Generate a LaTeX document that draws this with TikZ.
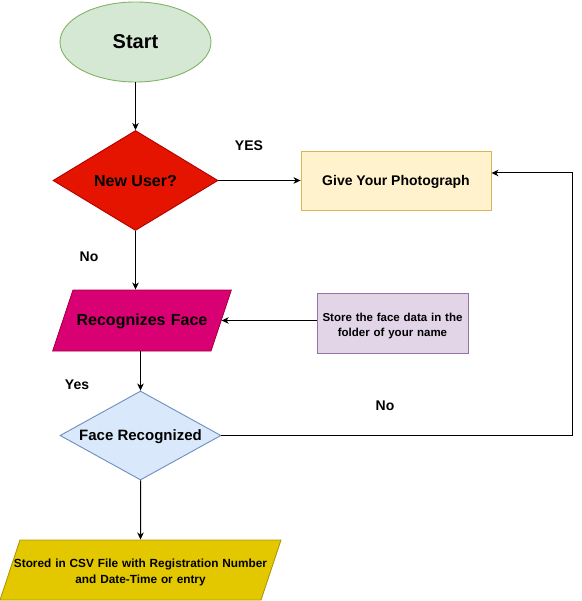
\documentclass[tikz,border=0pt]{standalone}
\usepackage{fontspec}
\setmainfont{Liberation Sans}
\usepackage{xcolor}
\usetikzlibrary{arrows.meta,shapes.geometric}

\definecolor{startfill}{HTML}{D5E8D4}
\definecolor{startline}{HTML}{82B366}
\definecolor{userfill}{HTML}{E51400}
\definecolor{userline}{HTML}{B20000}
\definecolor{photofill}{HTML}{FFF2CC}
\definecolor{photoline}{HTML}{D6B656}
\definecolor{facefill}{HTML}{D80073}
\definecolor{faceline}{HTML}{A50040}
\definecolor{storefill}{HTML}{E1D5E7}
\definecolor{storeline}{HTML}{9673A6}
\definecolor{checkfill}{HTML}{DAE8FC}
\definecolor{checkline}{HTML}{6C8EBF}
\definecolor{csvfill}{HTML}{E3C800}
\definecolor{csvline}{HTML}{B09500}

\begin{document}
\begin{tikzpicture}[
	x=1pt, y=-1pt,
	every node/.style={
		inner sep=0pt,
		align=center,
		font=\bfseries
	},
	shape line/.style={draw, line width=0.9pt},
	one line/.style={text depth=0pt},
	terminal/.style={ellipse, shape line, one line, minimum width=151pt, minimum height=80pt},
	process/.style={rectangle, shape line},
	decision/.style={diamond, shape line, one line, aspect=1.6},
	inout/.style={
		trapezium, shape line,
		trapezium left angle=71.57,
		trapezium right angle=108.43
	},
	arrow/.style={-{Stealth[length=7pt,width=6.5pt,inset=2pt]}, line width=1pt},
	answer/.style={one line, font=\bfseries\fontsize{14}{16}\selectfont}
]
\useasboundingbox (0,0) rectangle (581,601);

\node[terminal, fill=startfill, draw=startline,
	font=\bfseries\fontsize{20}{24}\selectfont] (start) at (135.5,42) {Start};
\node[decision, fill=userfill, draw=userline,
	minimum width=165pt, minimum height=100pt,
	font=\bfseries\fontsize{16}{19}\selectfont] (newuser) at (135.5,180.5) {New User?};
\node[process, one line, fill=photofill, draw=photoline,
	minimum width=190pt, minimum height=59pt,
	font=\bfseries\fontsize{14}{17}\selectfont] (photo) at (396,180.5) {Give Your Photograph};
\node[inout, fill=facefill, draw=faceline,
	text width=138pt, text height=35.5pt, text depth=25.5pt,
	font=\bfseries\fontsize{16}{19}\selectfont] (recog) at (142,320.5) {Recognizes Face};
\node[process, fill=storefill, draw=storeline,
	text width=151pt, text height=28pt, text depth=32pt,
	font=\bfseries\fontsize{11.5}{15}\selectfont] (store) at (392.5,323) {Store the face data in the\\folder of your name};
\node[decision, fill=checkfill, draw=checkline,
	minimum width=161pt, minimum height=89pt,
	font=\bfseries\fontsize{15}{18}\selectfont] (check) at (140.5,435.5) {Face Recognized};
\node[inout, fill=csvfill, draw=csvline,
	text width=241pt, text height=27.3pt, text depth=32.7pt,
	font=\bfseries\fontsize{11.8}{16}\selectfont] (csv) at (140.5,570) {\makebox[\linewidth]{Stored in CSV File with Registration Number}\\and Date-Time or entry};

\coordinate (loop) at (572.5,435.5);

\draw[arrow] (start) -- (newuser);
\draw[arrow] (newuser) -- (photo);
\draw[arrow] (newuser.south) -- (newuser.south |- recog.north);
\draw[arrow] (store.west |- recog.east) -- (recog.east);
\draw[arrow] (recog.south -| check.north) -- (check.north);
\draw[arrow] (check) -- (csv);
\draw[arrow] (check.east) -- (loop) |- ([yshift=7.5pt]photo.east);

\node[answer] (yes1) at (249,146) {YES};
\node[answer] (no1) at (89,257) {No};
\node[answer] (yes2) at (77,385) {Yes};
\node[answer] (no2) at (385,406) {No};
\end{tikzpicture}
\end{document}
